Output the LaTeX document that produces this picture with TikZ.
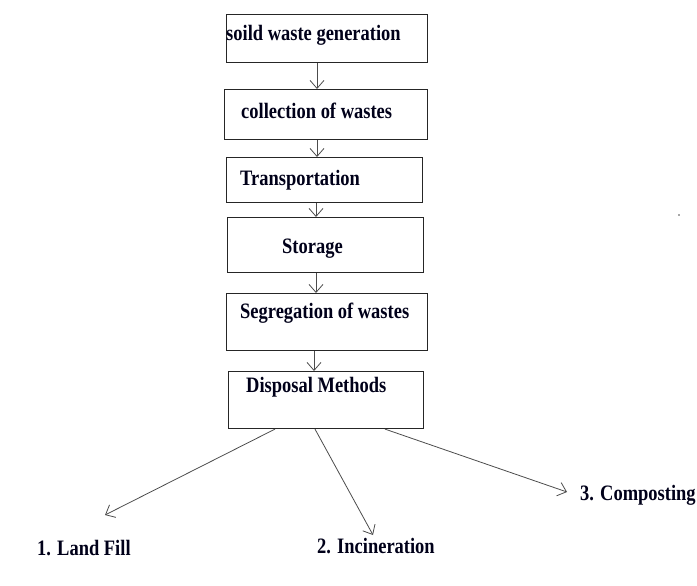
\documentclass[tikz,border=0pt]{standalone}
\usepackage{fontspec}
\newfontfamily\tf[FakeStretch=0.84]{Liberation Serif}
\usetikzlibrary{arrows.meta}
\tikzset{
  box/.style={draw=black!85, line width=1.1pt, anchor=north west, inner sep=0pt},
  lbl/.style={anchor=base west, inner sep=0pt, font=\tf\bfseries\fontsize{22}{24}\selectfont, text=black!90!blue},
  arr/.style={draw=black!70, line width=0.8pt, -{Straight Barb[length=8pt,width=14pt,line width=0.8pt]}},
}
\begin{document}
\begin{tikzpicture}[x=1pt,y=-1pt]
\useasboundingbox (0,0) rectangle (697,586);
% boxes
\node[box, minimum width=201pt, minimum height=48pt] (b1) at (226,14) {};
\node[box, minimum width=203pt, minimum height=50pt] (b2) at (224,89) {};
\node[box, minimum width=196pt, minimum height=45pt] (b3) at (226,157) {};
\node[box, minimum width=196pt, minimum height=55pt] (b4) at (227,217) {};
\node[box, minimum width=201pt, minimum height=57pt] (b5) at (226,293) {};
\node[box, minimum width=195pt, minimum height=57pt] (b6) at (228,371) {};
% box texts
\node[lbl] (l1) at (226,41) {soild waste generation};
\node[lbl] (l2) at (241,118) {collection of wastes};
\node[lbl] (l3) at (240,185) {Transportation};
\node[lbl] (l4) at (282,253) {Storage};
\node[lbl] (l5) at (240,318) {Segregation of wastes};
\node[lbl] (l6) at (246,392) {Disposal Methods};
% outcome labels
\node[lbl] (o1) at (37,555) {1. Land Fill};
\node[lbl] (o2) at (317,553) {2. Incineration};
\node[lbl] (o3) at (580,500) {3. Composting};
% vertical connector x positions
\coordinate (a1) at (317,0);
\coordinate (a2) at (317,0);
\coordinate (a3) at (316,0);
\coordinate (a4) at (316,0);
\coordinate (a5) at (314,0);
\draw[arr] (b1.south -| a1) -- (b2.north -| a1);
\draw[arr] (b2.south -| a2) -- (b3.north -| a2);
\draw[arr] (b3.south -| a3) -- (b4.north -| a3);
\draw[arr] (b4.south -| a4) -- (b5.north -| a4);
\draw[arr] (b5.south -| a5) -- (b6.north -| a5);
% branch arrows
\coordinate (s1) at (275,0);
\coordinate (s2) at (315,0);
\coordinate (s3) at (385,0);
\coordinate (t1) at (105,515);
\coordinate (t2) at (373,535);
\coordinate (t3) at (567,492);
\draw[arr] (b6.south -| s1) -- (t1);
\draw[arr] (b6.south -| s2) -- (t2);
\draw[arr] (b6.south -| s3) -- (t3);
% stray dot
\fill[black!70] (679,215) circle (0.8pt);
\end{tikzpicture}
\end{document}
